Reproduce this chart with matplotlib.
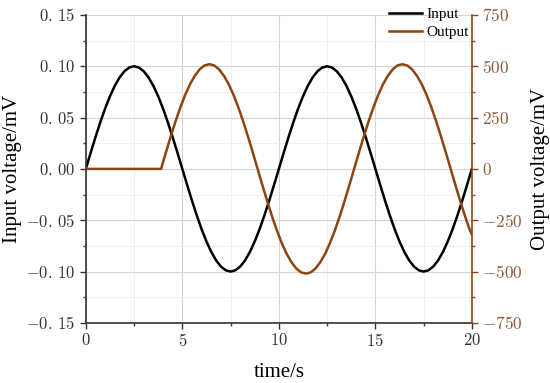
import numpy as np
import matplotlib
matplotlib.use("Agg")
import matplotlib.pyplot as plt
from matplotlib.ticker import MultipleLocator, FixedLocator, FixedFormatter

plt.rcParams['font.family'] = ['Liberation Serif', 'DejaVu Serif']
plt.rcParams['mathtext.fontset'] = 'cm'

# ---- data ----
in_time = np.arange(0, 20.001, 0.25)
in_vals = [0.0, 0.0156, 0.0309, 0.0454, 0.0588, 0.0707, 0.0809, 0.0891, 0.0951, 0.0988,
           0.1000, 0.0988, 0.0951, 0.0891, 0.0809, 0.0707, 0.0588, 0.0454, 0.0309, 0.0156,
           0.0, -0.0156, -0.0309, -0.0454, -0.0588, -0.0707, -0.0809, -0.0891, -0.0951, -0.0988,
           -0.1000, -0.0988, -0.0951, -0.0891, -0.0809, -0.0707, -0.0588, -0.0454, -0.0309, -0.0156,
           0.0, 0.0156, 0.0309, 0.0454, 0.0588, 0.0707, 0.0809, 0.0891, 0.0951, 0.0988,
           0.1000, 0.0988, 0.0951, 0.0891, 0.0809, 0.0707, 0.0588, 0.0454, 0.0309, 0.0156,
           0.0, -0.0156, -0.0309, -0.0454, -0.0588, -0.0707, -0.0809, -0.0891, -0.0951, -0.0988,
           -0.1000, -0.0988, -0.0951, -0.0891, -0.0809, -0.0707, -0.0588, -0.0454, -0.0309, -0.0156,
           0.0]

out_time = [0.0] + list(np.arange(3.9, 19.91, 0.25)) + [20.0]
out_vals = [0,
            0, 80, 158, 232, 300, 361, 413, 454, 485, 504,
            510, 504, 485, 454, 413, 361, 300, 232, 158, 80,
            0, -80, -158, -232, -300, -361, -413, -454, -485, -504,
            -510, -504, -485, -454, -413, -361, -300, -232, -158, -80,
            0, 80, 158, 232, 300, 361, 413, 454, 485, 504,
            510, 504, 485, 454, 413, 361, 300, 232, 158, 80,
            0, -80, -158, -232, -300,
            -320]

left_ticks = [-0.15, -0.10, -0.05, 0.00, 0.05, 0.10, 0.15]
right_ticks = [-750, -500, -250, 0, 250, 500, 750]
x_ticks = [0, 5, 10, 15, 20]

brown = '#8B4513'
brown_txt = '#8B5A3C'


def left_fmt(v):
    s = f'{abs(v):.2f}'.replace('.', r'.\,')
    return ('$-' if v < 0 else '$') + s + '$'


fig = plt.figure(figsize=(5.5, 3.83), dpi=100)
ax = fig.add_axes([0.156, 0.157, 0.702, 0.804])
ax2 = ax.twinx()

l1, = ax.plot(in_time, in_vals, color='black', lw=1.8, label='Input')
l2, = ax2.plot(out_time, out_vals, color=brown, lw=1.8, label='Output')

ax.set_xlim(0, 20)
ax.set_ylim(-0.15, 0.15)
ax2.set_ylim(-750, 750)

ax.xaxis.set_major_locator(FixedLocator(x_ticks))
ax.xaxis.set_major_formatter(FixedFormatter([f'${v}$' for v in x_ticks]))
ax.xaxis.set_minor_locator(MultipleLocator(2.5))
ax.yaxis.set_major_locator(FixedLocator(left_ticks))
ax.yaxis.set_major_formatter(FixedFormatter([left_fmt(v) for v in left_ticks]))
ax.yaxis.set_minor_locator(MultipleLocator(0.025))
ax2.yaxis.set_major_locator(FixedLocator(right_ticks))
ax2.yaxis.set_major_formatter(FixedFormatter([f'${v}$' for v in right_ticks]))
ax2.yaxis.set_minor_locator(MultipleLocator(125))

ax.grid(True, which='major', color='#d4d4d4', lw=0.8)
ax.grid(True, which='minor', color='#eeeeee', lw=0.6)
ax.set_axisbelow(True)

for a in (ax, ax2):
    a.spines['top'].set_visible(False)
ax.spines['right'].set_visible(False)
ax2.spines['left'].set_visible(False)
ax2.spines['bottom'].set_visible(False)
ax.spines['left'].set_color('#333333')
ax.spines['bottom'].set_color('#333333')
ax.spines['left'].set_linewidth(1.2)
ax.spines['bottom'].set_linewidth(1.2)
ax2.spines['right'].set_color(brown)
ax2.spines['right'].set_linewidth(1.2)

ax.tick_params(axis='both', which='major', direction='out', length=4, width=1, colors='#333333',
               labelsize=12, labelcolor='#333333')
ax.tick_params(axis='both', which='minor', direction='out', length=2.5, width=1, colors='#333333')
ax2.tick_params(axis='y', which='major', direction='out', length=4, width=1, colors=brown,
                labelsize=12.5, labelcolor=brown_txt)
ax2.tick_params(axis='y', which='minor', direction='out', length=2.5, width=1, colors=brown)

ax.set_xlabel('time/s', fontsize=15, labelpad=9)
ax.set_ylabel('Input voltage/mV', fontsize=15, labelpad=3)
ax2.set_ylabel('Output voltage/mV', fontsize=15, labelpad=6, rotation=90)

ax2.legend(handles=[l1, l2], loc='upper right', bbox_to_anchor=(1.008, 1.045), frameon=False,
           fontsize=11, handlelength=2.15, borderaxespad=0, labelspacing=0.3, handletextpad=0.3)

fig.savefig('out.png', dpi=100)
